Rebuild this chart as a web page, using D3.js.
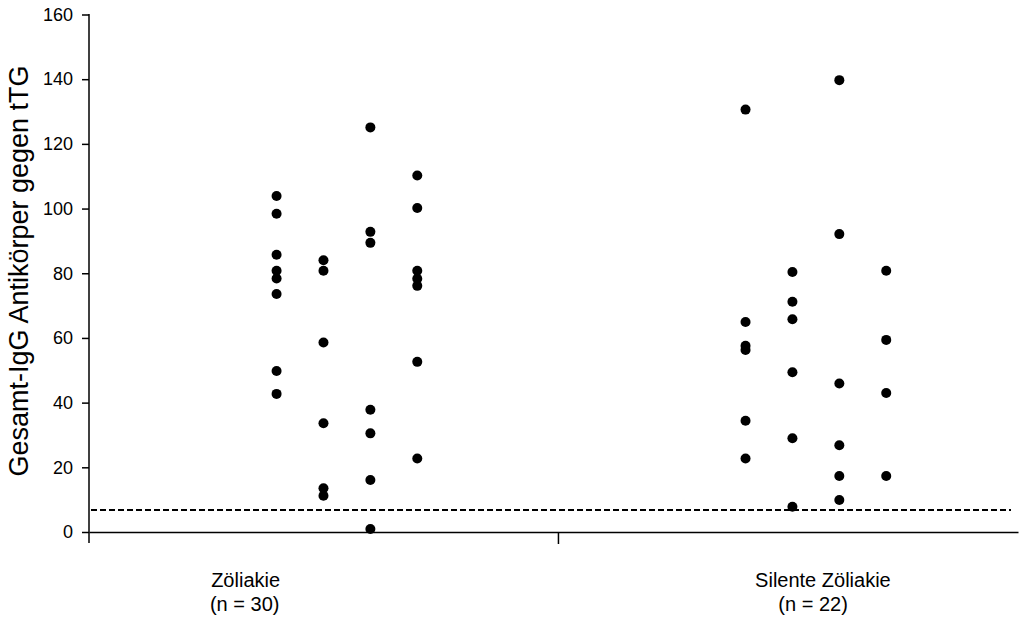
<!DOCTYPE html>
<html>
<head>
<meta charset="utf-8">
<script src="https://cdn.jsdelivr.net/npm/d3@7"></script>
<style>
  body { margin: 0; background: #fff; }
  svg { display: block; font-family: Arial, "Liberation Sans", sans-serif; }
</style>
</head>
<body>
<div class="chart"></div>
<script>
// groups and their label lines
const groups = ['Zöliakie', 'Silente Zöliakie'];
const groupN = ['(n = 30)', '(n = 22)'];
const groupLabelX = [0.334, 1.565];
const groupNX = [0.332, 1.544];

// column x positions (in axis units) for each jittered column
const colX = [0.4, 0.5, 0.6, 0.7, 1.4, 1.5, 1.6, 1.7];

// values per column
const zoeliakie1 = [103.9, 98.4, 85.7, 80.8, 78.4, 73.6, 49.8, 42.7];
const zoeliakie2 = [84.0, 80.8, 58.6, 33.6, 13.5, 11.2];
const zoeliakie3 = [125.1, 92.8, 89.4, 37.8, 30.5, 16.1, 0.9];
const zoeliakie4 = [110.2, 100.2, 80.8, 78.3, 76.1, 52.6, 22.7];
const silent1 = [130.6, 64.9, 57.6, 56.3, 34.4, 22.7];
const silent2 = [80.4, 71.2, 65.8, 49.4, 29.0, 7.8];
const silent3 = [139.7, 92.1, 45.9, 26.8, 17.3, 9.9];
const silent4 = [80.8, 59.4, 43.0, 17.3];
const columns = [zoeliakie1, zoeliakie2, zoeliakie3, zoeliakie4, silent1, silent2, silent3, silent4];

const yTicks = [0, 20, 40, 60, 80, 100, 120, 140, 160];
const cutoff = 6.8;

const width = 1019, height = 622;
const svg = d3.select('.chart').append('svg')
  .attr('width', width).attr('height', height);

const x = d3.scaleLinear().domain([0, 1.981]).range([89, 1018]);
const y = d3.scaleLinear().domain([0, 160]).range([532, 14.5]);

// points
const pts = [];
columns.forEach((vals, i) => vals.forEach(v => pts.push({ x: colX[i], v: v })));
svg.append('g').selectAll('circle')
  .data(pts).enter().append('circle')
  .attr('cx', d => x(d.x))
  .attr('cy', d => y(d.v))
  .attr('r', 5)
  .style('fill', '#000');

// cutoff line
svg.append('line')
  .attr('x1', x(0.005)).attr('x2', x(1.967))
  .attr('y1', y(cutoff)).attr('y2', y(cutoff))
  .attr('stroke', '#000').attr('stroke-width', 1.2)
  .attr('stroke-dasharray', '6,3')
  .attr('shape-rendering', 'crispEdges');

// y axis
const yAxis = d3.axisLeft(y).tickValues(yTicks).tickSizeInner(7).tickSizeOuter(0).tickPadding(9);
const yAxisDraw = svg.append('g').attr('transform', `translate(${x(0)},0)`).call(yAxis);
yAxisDraw.select('.domain').remove();
yAxisDraw.selectAll('text').style('font-size', '18px').style('fill', '#000')
  .style('font-family', 'Arial, "Liberation Sans", sans-serif');
yAxisDraw.selectAll('line').attr('stroke', '#000').attr('stroke-width', 1.5);
svg.append('line')
  .attr('x1', x(0)).attr('x2', x(0))
  .attr('y1', y(160) - 0.5).attr('y2', y(0) + 11)
  .attr('stroke', '#000').attr('stroke-width', 1.5);

// x axis
const xAxis = d3.axisBottom(x).tickValues([1]).tickFormat('').tickSizeInner(12).tickSizeOuter(0);
const xAxisDraw = svg.append('g').attr('transform', `translate(0,${y(0)})`).call(xAxis);
xAxisDraw.selectAll('path, line').attr('stroke', '#000').attr('stroke-width', 1.5);

// group labels
const lab = svg.append('g').style('font-size', '20px').style('fill', '#000');
groups.forEach((g, i) => {
  lab.append('text').attr('text-anchor', 'middle')
    .attr('x', x(groupLabelX[i])).attr('y', 587).text(g);
  lab.append('text').attr('text-anchor', 'middle')
    .attr('x', x(groupNX[i])).attr('y', 611).text(groupN[i]);
});

// y label
svg.append('text')
  .attr('transform', `translate(28,271) rotate(-90)`)
  .attr('text-anchor', 'middle')
  .style('font-size', '27px')
  .text('Gesamt-IgG Antikörper gegen tTG');
</script>
</body>
</html>
